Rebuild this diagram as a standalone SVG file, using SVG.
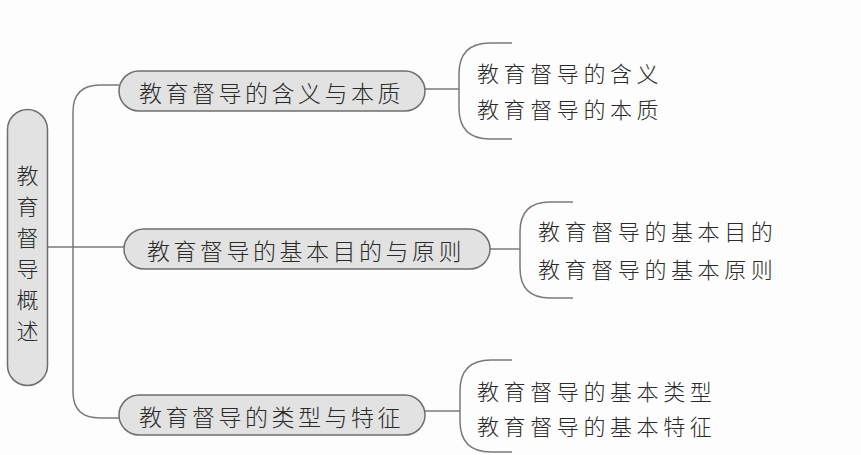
<svg xmlns="http://www.w3.org/2000/svg" width="861" height="455" viewBox="0 0 861 455">
<style>
.node{fill:#e2e2e2;stroke:#6e6e6e;stroke-width:1.5}
.ln{fill:none;stroke:#7a7a7a;stroke-width:1.5}
text{font-family:"Noto Sans CJK SC","Noto Sans CJK JP",sans-serif;fill:#2a2a2a;dominant-baseline:central;font-weight:300}
.t1{font-size:23px;letter-spacing:3.5px}
.t2{font-size:22px;letter-spacing:4.6px}
</style>
<rect width="861" height="455" fill="#fdfdfd"/>
<g id="connectors">
<path class="ln" d="M48,247 H124"/>
<path class="ln" d="M119,85 H100 Q73,85 73,112 V392 Q73,418 100,418 H119"/>
<path class="ln" d="M425,89 H459"/>
<path class="ln" d="M512,43 H490 Q459,43 459,74 V108 Q459,139 490,139 H512"/>
<path class="ln" d="M490,249 H520"/>
<path class="ln" d="M573,202 H550 Q520,202 520,232 V268 Q520,298 550,298 H573"/>
<path class="ln" d="M425,411 H460"/>
<path class="ln" d="M512,360 H491 Q460,360 460,391 V421 Q460,452 491,452 H512"/>
</g>
<g id="root">
<rect class="node" x="7.5" y="109.5" width="40" height="276" rx="20"/>
<text x="27.5" y="174" font-size="22" text-anchor="middle">教</text>
<text x="27.5" y="205" font-size="22" text-anchor="middle">育</text>
<text x="27.5" y="236" font-size="22" text-anchor="middle">督</text>
<text x="27.5" y="267" font-size="22" text-anchor="middle">导</text>
<text x="27.5" y="298" font-size="22" text-anchor="middle">概</text>
<text x="27.5" y="329" font-size="22" text-anchor="middle">述</text>
</g>
<g id="n1">
<rect class="node" x="119" y="71" width="306" height="40" rx="20"/>
<text class="t1" x="139" y="92">教育督导的含义与本质</text>
</g>
<g id="n2">
<rect class="node" x="124" y="229" width="366" height="40" rx="20"/>
<text class="t1" x="147" y="250">教育督导的基本目的与原则</text>
</g>
<g id="n3">
<rect class="node" x="119" y="395" width="306" height="40" rx="20"/>
<text class="t1" x="139" y="416">教育督导的类型与特征</text>
</g>
<g id="b1">
<text class="t2" x="477" y="72">教育督导的含义</text>
<text class="t2" x="477" y="108">教育督导的本质</text>
</g>
<g id="b2">
<text class="t2" x="538" y="230">教育督导的基本目的</text>
<text class="t2" x="538" y="268">教育督导的基本原则</text>
</g>
<g id="b3">
<text class="t2" x="477" y="390">教育督导的基本类型</text>
<text class="t2" x="477" y="425">教育督导的基本特征</text>
</g>
</svg>
